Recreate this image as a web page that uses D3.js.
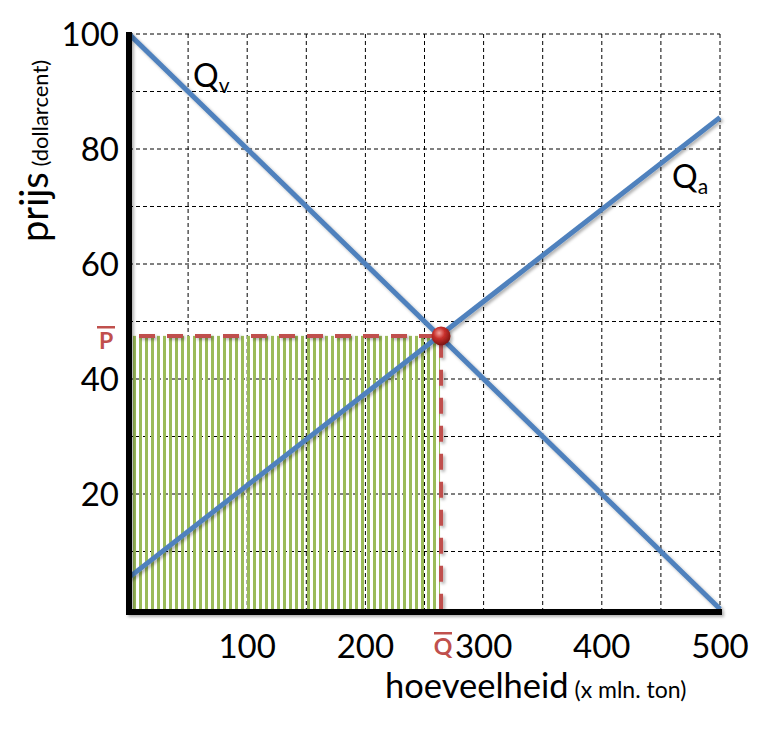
<!DOCTYPE html>
<html><head><meta charset="utf-8">
<script src="https://cdn.jsdelivr.net/npm/d3@7"></script>
<style>body{margin:0;background:#fff}svg{display:block}</style>
</head><body>
<script>
const xTicks = [100, 200, 300, 400, 500];
const yTicks = [20, 40, 60, 80, 100];
const xGrid = [50,100,150,200,250,300,350,400,450,500];
const yGrid = [10,20,30,40,50,60,70,80,90,100];
const supplyQ = [0, 500], supplyP = [5.5, 85.5];
const demandQ = [0, 500], demandP = [100, 0];
const eqQ = 264, eqP = 47.5;

const W = 771, H = 732;
const svg = d3.select("body").append("svg").attr("width", W).attr("height", H);
const x = d3.scaleLinear().domain([0, 500]).range([129, 720]);
const y = d3.scaleLinear().domain([0, 100]).range([609, 34]);
const font = "Lato, 'Open Sans', sans-serif";

const defs = svg.append("defs");
const f = defs.append("filter").attr("id","sh").attr("x","-10%").attr("y","-10%").attr("width","130%").attr("height","130%");
f.append("feDropShadow").attr("dx",2).attr("dy",2).attr("stdDeviation",1.5).attr("flood-color","#000").attr("flood-opacity",0.3);
const pat = defs.append("pattern").attr("id","stripes").attr("patternUnits","userSpaceOnUse")
  .attr("x", 133).attr("y",0).attr("width",6).attr("height",10);
pat.append("rect").attr("x",0).attr("y",0).attr("width",3).attr("height",10).attr("fill","#9bbb59");
const rg = defs.append("radialGradient").attr("id","ball").attr("cx","40%").attr("cy","35%").attr("r","65%");
rg.append("stop").attr("offset","0%").attr("stop-color","#f4a19e");
rg.append("stop").attr("offset","45%").attr("stop-color","#c8302c");
rg.append("stop").attr("offset","100%").attr("stop-color","#7e1512");

// grid
const g = svg.append("g").attr("stroke","#000").attr("stroke-width",1).attr("stroke-dasharray","4,3");
g.selectAll("line.v").data(xGrid).join("line").attr("x1",d=>x(d)).attr("x2",d=>x(d)).attr("y1",y(100)).attr("y2",y(0));
g.selectAll("line.h").data(yGrid).join("line").attr("x1",x(0)).attr("x2",x(500)).attr("y1",d=>y(d)).attr("y2",d=>y(d));

// stripes area
svg.append("rect").attr("x", x(0)).attr("y", y(eqP)).attr("width", x(eqQ)-1-x(0)).attr("height", y(0)-y(eqP))
  .attr("fill","url(#stripes)");

// dashed equilibrium lines
svg.append("path").attr("d", `M${x(0)+4},${y(eqP)}H${x(eqQ)}V${y(0)}`)
  .attr("fill","none").attr("stroke","#c0504d").attr("stroke-width",4).attr("stroke-dasharray","16,12")
  .attr("stroke-dashoffset",-6).attr("filter","url(#sh)");

// curves
const line = d3.line().x(d=>x(d[0])).y(d=>y(d[1]));
svg.append("path").attr("d", line(supplyQ.map((q,i)=>[q,supplyP[i]])))
  .attr("stroke","#4f81bd").attr("stroke-width",5).attr("fill","none").attr("filter","url(#sh)");
svg.append("path").attr("d", line(demandQ.map((q,i)=>[q,demandP[i]])))
  .attr("stroke","#4f81bd").attr("stroke-width",5).attr("fill","none").attr("filter","url(#sh)");

// axes
svg.append("path").attr("d", `M${x(0)},${y(100)-2}V${y(0)+3}H${x(500)+2}`)
  .attr("fill","none").attr("stroke","#000").attr("stroke-width",6).attr("filter","url(#sh)");

// equilibrium ball
svg.append("circle").attr("cx", x(eqQ)).attr("cy", y(eqP)).attr("r", 9.5).attr("fill","url(#ball)").attr("filter","url(#sh)");

// tick labels
svg.selectAll("text.yt").data(yTicks).join("text").attr("x",119).attr("y",d=>y(d)).attr("dy","0.36em")
  .attr("text-anchor","end").attr("font-family",font).attr("font-size",33).attr("fill","#000").text(d=>d);
svg.selectAll("text.xt").data(xTicks).join("text").attr("x",d=>x(d)).attr("y",658)
  .attr("text-anchor","middle").attr("font-family",font).attr("font-size",33).attr("fill","#000").text(d=>d);

// P bar and Q bar labels
function barLabel(txt, cx, base) {
  svg.append("text").attr("x",cx).attr("y",base).attr("text-anchor","middle")
    .attr("font-family",font).attr("font-weight","bold").attr("font-size",23).attr("fill","#c0504d").text(txt);
  svg.append("rect").attr("x",cx-9).attr("y",base-23).attr("width",18).attr("height",2.5).attr("fill","#c0504d");
}
barLabel("P", 106, 349);
barLabel("Q", 443, 655);

// curve labels
const qv = svg.append("text").attr("x",193).attr("y",87).attr("font-family",font).attr("font-size",32).attr("fill","#000");
qv.append("tspan").text("Q");
qv.append("tspan").attr("font-size",21).attr("dy",6).text("v");
const qa = svg.append("text").attr("x",672).attr("y",188).attr("font-family",font).attr("font-size",32).attr("fill","#000");
qa.append("tspan").text("Q");
qa.append("tspan").attr("font-size",21).attr("dy",6).text("a");

// axis titles
const xt = svg.append("text").attr("x",385).attr("y",698).attr("font-family",font).attr("fill","#000");
xt.append("tspan").attr("font-size",34.5).text("hoeveelheid");
xt.append("tspan").attr("font-size",23).text(" (x mln. ton)");
const yt = svg.append("text").attr("transform","translate(48,242) rotate(-90)").attr("font-family",font).attr("fill","#000");
yt.append("tspan").attr("font-size",38).text("prijs");
yt.append("tspan").attr("font-size",22).text(" (dollarcent)");
</script>
</body></html>
